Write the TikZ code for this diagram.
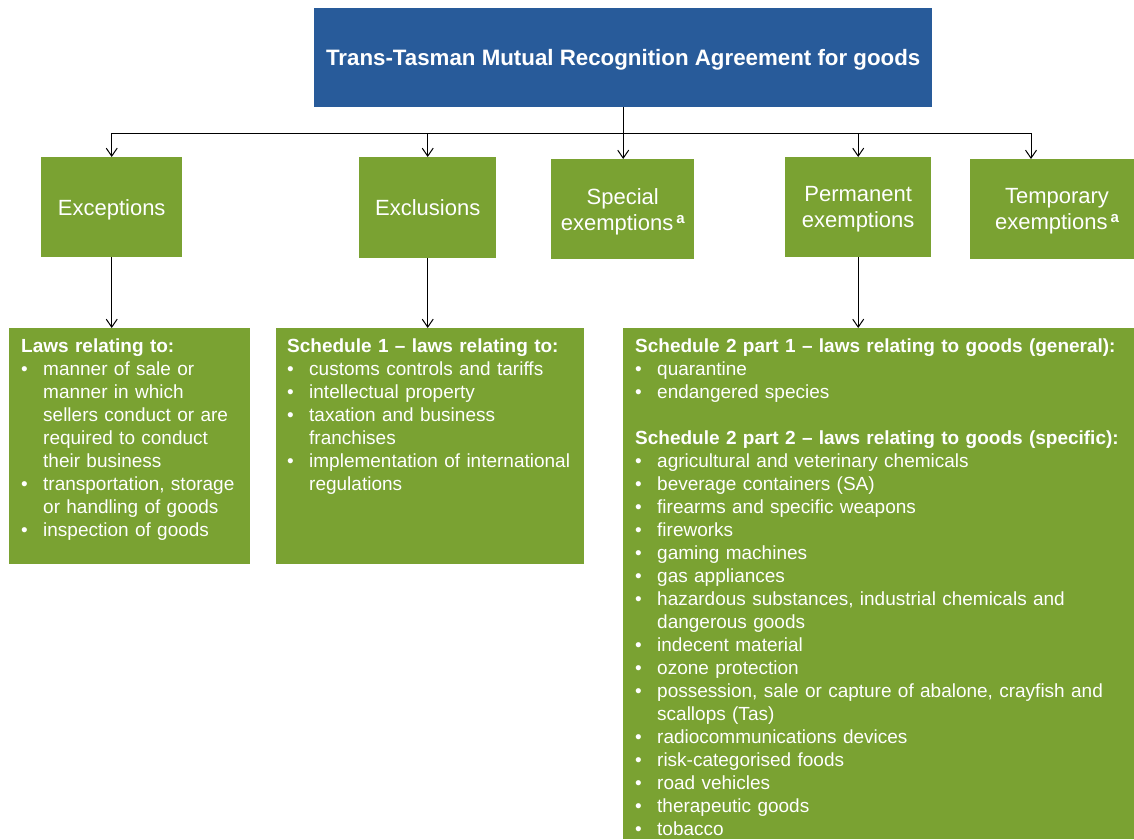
\documentclass[tikz,border=0pt]{standalone}
\usepackage{fontspec}
\setmainfont{Liberation Sans}
\usetikzlibrary{arrows.meta}
\definecolor{topblue}{RGB}{40,91,154}
\definecolor{boxgreen}{RGB}{122,162,50}
\newcommand{\bl}{\makebox[22pt][l]{•}}
\newcommand{\ind}{\hspace*{22pt}}
\newcommand{\supa}{\hspace{3pt}\raisebox{7pt}{\fontsize{15}{15}\selectfont\bfseries a}}
\begin{document}
\begin{tikzpicture}[x=1pt,y=-1pt,
  greenbox/.style={fill=boxgreen, draw=none, inner sep=0pt, anchor=north west, text=white, align=center, text depth=0pt, font=\fontsize{22}{26}\selectfont},
  boxlabel/.style={text=white, font=\fontsize{22}{26}\selectfont, align=center, text depth=0pt, inner sep=0pt},
  listtext/.style={text=white, font=\fontsize{19}{23}\selectfont, align=left, anchor=base west, inner sep=0pt, text width=#1},
  conn/.style={draw=black, line width=1pt},
  arr/.style={conn, -{Straight Barb[length=8pt,width=11pt]}}]
\useasboundingbox (0,0) rectangle (1134,839);
% top box
\node[fill=topblue, inner sep=0pt, anchor=north west, minimum width=618pt, minimum height=99pt,
      text=white, text depth=0pt, font=\fontsize{22.3}{26}\selectfont\bfseries] (top) at (314,8) {Trans-Tasman Mutual Recognition Agreement for goods};
% second row
\node[greenbox, minimum width=141pt, minimum height=100pt] (exceptions) at (41,157) {Exceptions};
\node[greenbox, minimum width=137pt, minimum height=101pt] (exclusions) at (359,157) {Exclusions};
\node[greenbox, minimum width=143pt, minimum height=100pt] (special) at (551,159) {Special\\exemptions\supa};
\node[greenbox, minimum width=146pt, minimum height=100pt] (permanent) at (785,157) {Permanent\\exemptions};
\node[greenbox, minimum width=164pt, minimum height=100pt] (temporary) at (970,159) {};
\node[boxlabel] (temporarylabel) at (1057,209) {Temporary\\exemptions\supa};
% bottom row
\node[greenbox, minimum width=241pt, minimum height=236pt] (laws) at (9,328) {};
\node[greenbox, minimum width=308pt, minimum height=236pt] (sched1) at (276,328) {};
\node[greenbox, minimum width=511pt, minimum height=511pt] (sched2) at (623,328) {};
\node[listtext=225pt] (lawstext) at (21,352) {\textbf{Laws relating to:}\\
\bl manner of sale or\\
\ind manner in which\\
\ind sellers conduct or are\\
\ind required to conduct\\
\ind their business\\
\bl transportation, storage\\
\ind or handling of goods\\
\bl inspection of goods};
\node[listtext=295pt] (sched1text) at (287,352) {\textbf{Schedule 1 – laws relating to:}\\
\bl customs controls and tariffs\\
\bl intellectual property\\
\bl taxation and business\\
\ind franchises\\
\bl implementation of international\\
\ind regulations};
\node[listtext=495pt] (sched2text) at (635,352) {\textbf{Schedule 2 part 1 – laws relating to goods (general):}\\
\bl quarantine\\
\bl endangered species\\[23pt]
\textbf{Schedule 2 part 2 – laws relating to goods (specific):}\\
\bl agricultural and veterinary chemicals\\
\bl beverage containers (SA)\\
\bl firearms and specific weapons\\
\bl fireworks\\
\bl gaming machines\\
\bl gas appliances\\
\bl hazardous substances, industrial chemicals and\\
\ind dangerous goods\\
\bl indecent material\\
\bl ozone protection\\
\bl possession, sale or capture of abalone, crayfish and\\
\ind scallops (Tas)\\
\bl radiocommunications devices\\
\bl risk-categorised foods\\
\bl road vehicles\\
\bl therapeutic goods\\
\bl tobacco};
% connectors
\coordinate (bus) at (623,133);
\coordinate (busR) at (1031,133);
\draw[arr] (top.south) -- (top.south |- special.north);
\draw[conn] (exceptions.north |- bus) -- (busR);
\draw[arr] (exceptions.north |- bus) -- (exceptions.north);
\draw[arr] (exclusions.north |- bus) -- (exclusions.north);
\draw[arr] (permanent.north |- bus) -- (permanent.north);
\draw[arr] (busR) -- (busR |- temporary.north);
\draw[arr] (exceptions.south) -- (exceptions.south |- laws.north);
\draw[arr] (exclusions.south) -- (exclusions.south |- sched1.north);
\draw[arr] (permanent.south) -- (permanent.south |- sched2.north);
\end{tikzpicture}
\end{document}
